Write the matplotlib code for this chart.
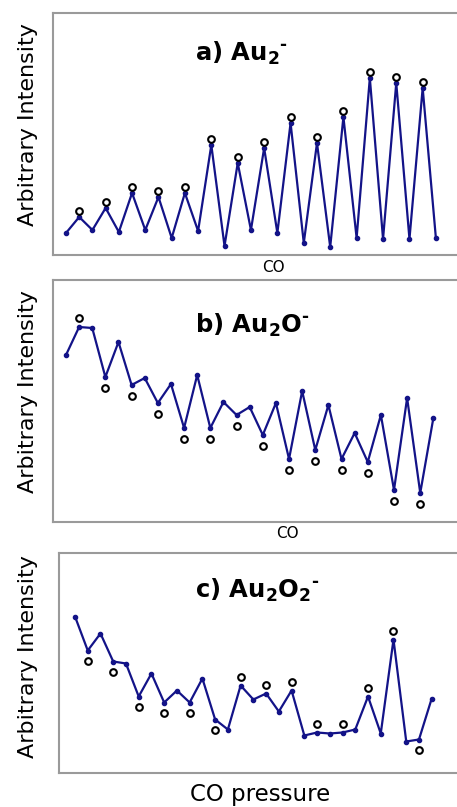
import matplotlib
matplotlib.use("Agg")
import matplotlib.pyplot as plt
from matplotlib.transforms import ScaledTranslation

plt.rcParams['font.family'] = ['DejaVu Sans']
plt.rcParams['mathtext.fontset'] = 'dejavusans'

# ---- data (arbitrary intensity units) ----
vals_a = [22, 38, 25, 47, 23, 62, 25, 58, 17, 62, 24, 110, 9, 92, 25, 107, 22,
          132, 12, 112, 8, 138, 17, 177, 16, 172, 16, 167, 17]
circ_a = [1, 3, 5, 7, 9, 11, 13, 15, 17, 19, 21, 23, 25, 27]
side_a = ['up'] * 14

vals_b = [167, 195, 194, 145, 180, 137, 144, 119, 138, 94, 147, 94, 120, 107,
          115, 87, 119, 63, 131, 72, 117, 63, 89, 60, 107, 32, 124, 29, 104]
circ_b = [1, 3, 5, 7, 9, 11, 13, 15, 17, 19, 21, 23, 25, 27]
side_b = ['up'] + ['down'] * 13

vals_c = [156, 122, 139, 111, 109, 76, 99, 70, 82, 70, 94, 53, 43, 87, 73, 79,
          61, 82, 37, 40, 39, 40, 43, 76, 39, 133, 31, 33, 74]
circ_c = [1, 3, 5, 7, 9, 11, 13, 15, 17, 19, 21, 23, 25, 27]
side_c = ['down'] * 6 + ['up'] * 7 + ['down']

titles = ['a) Au$_\\mathbf{2}$$^\\mathbf{\u2010}$',
          'b) Au$_\\mathbf{2}$O$^\\mathbf{\u2010}$',
          'c) Au$_\\mathbf{2}$O$_\\mathbf{2}$$^\\mathbf{\u2010}$']
xlabels = ['CO', 'CO', 'CO pressure']
ylabel = 'Arbitrary Intensity'

W, H = 457, 807
fig = plt.figure(figsize=(W / 100, H / 100), dpi=100)

# panel geometry in pixels
panels = [
    dict(vals=vals_a, circ=circ_a, side=side_a, left=53, top=13, bot=255,
         x0=66, dx=13.21, up=5.8, down=10.5, title_xy=(242, 53), xl_xy=(273, 268),
         xl_size=11, yl_y=125),
    dict(vals=vals_b, circ=circ_b, side=side_b, left=53, top=280, bot=522,
         x0=66, dx=13.12, up=9.0, down=10.7, title_xy=(252, 325), xl_xy=(287, 533),
         xl_size=11, yl_y=392),
    dict(vals=vals_c, circ=circ_c, side=side_c, left=59, top=553, bot=772.5,
         x0=75, dx=12.74, up=8.3, down=10.7, title_xy=(257, 590), xl_xy=(260, 795),
         xl_size=16.5, yl_y=657),
]

line_color = '#131388'
for i, p in enumerate(panels):
    ax = fig.add_axes([p['left'] / W, 1 - p['bot'] / H,
                       1 - p['left'] / W, (p['bot'] - p['top']) / H])
    x = list(range(len(p['vals'])))
    ax.plot(x, p['vals'], color=line_color, lw=1.6, marker='o', ms=3,
            mec=line_color, mfc=line_color, zorder=2)
    for idx, sd in zip(p['circ'], p['side']):
        dy = p['up'] if sd == 'up' else -p['down']
        tr = ax.transData + ScaledTranslation(0, dy / 100, fig.dpi_scale_trans)
        ax.plot([idx], [p['vals'][idx]], marker='o', ms=4.8, mfc='white',
                mec='black', mew=1.5, transform=tr, zorder=3, clip_on=False)
    ax.set_xlim((p['left'] - p['x0']) / p['dx'], (W - p['x0']) / p['dx'])
    ax.set_ylim(0, p['bot'] - p['top'])
    ax.set_xticks([])
    ax.set_yticks([])
    for s in ['left', 'top', 'bottom']:
        ax.spines[s].set_color('#9a9a9a')
        ax.spines[s].set_linewidth(1.5)
    ax.spines['right'].set_visible(False)
    tx, ty = p['title_xy']
    fig.text(tx / W, 1 - ty / H, titles[i], fontsize=17.5, fontweight='bold',
             ha='center', va='center')
    lx, ly = p['xl_xy']
    fig.text(lx / W, 1 - ly / H, xlabels[i], fontsize=p['xl_size'],
             ha='center', va='center')
    fig.text(28 / W, 1 - p['yl_y'] / H, ylabel, fontsize=16, rotation=90,
             ha='center', va='center')

fig.savefig('out.png', dpi=100)
